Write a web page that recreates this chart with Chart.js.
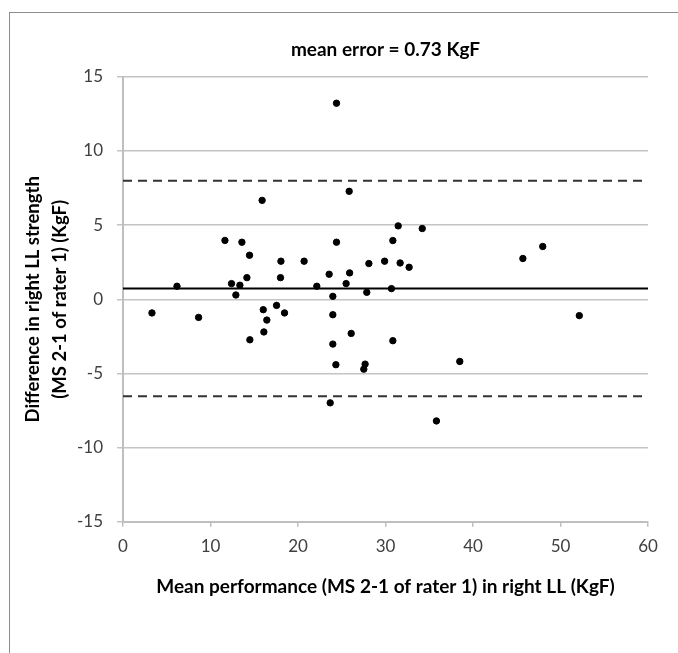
<!DOCTYPE html>
<html lang="en">
<head>
  <meta charset="UTF-8" />
  <title>Bland-Altman - right LL</title>
  <script src="https://cdn.jsdelivr.net/npm/chart.js"></script>
  <style>
    html, body {
      margin: 0;
      padding: 0;
      background: #ffffff;
      overflow: hidden;
    }

    .frame {
      position: absolute;
      left: 9px;
      top: 12px;
      width: 700px;
      height: 700px;
      border: 1px solid #8c8c8c;
    }

    .chart-box {
      position: absolute;
      left: 0;
      top: 0;
      width: 678px;
      height: 653px;
    }
  </style>
</head>
<body>

<div class="frame"></div>
<div class="chart-box"><canvas id="baChart"></canvas></div>

<script>
  // mean of the two measures (x) and their difference (y), one entry per subject
  const meanPerf = [
    24.4, 15.9, 25.85, 11.65, 13.59, 24.4, 14.46, 18.05, 20.7, 28.1,
    29.9, 14.16, 18.0, 23.56, 25.9, 31.45, 34.2, 30.84, 31.67, 32.7,
    45.7, 47.97, 6.17, 12.4, 13.36, 12.9, 22.15, 25.5, 23.98, 27.86,
    30.68, 3.31, 8.64, 16.03, 17.55, 18.46, 16.44, 16.1, 14.5, 23.98,
    26.08, 23.98, 24.33, 27.67, 27.52, 23.68, 30.84, 52.15, 38.49, 35.82
  ];
  const diffs = [
    13.22, 6.67, 7.28, 3.97, 3.85, 3.85, 2.97, 2.57, 2.57, 2.41,
    2.57, 1.46, 1.46, 1.69, 1.78, 4.95, 4.77, 3.96, 2.45, 2.16,
    2.75, 3.56, 0.88, 1.06, 0.95, 0.29, 0.88, 1.06, 0.2, 0.47,
    0.72, -0.92, -1.22, -0.7, -0.41, -0.92, -1.4, -2.2, -2.73, -1.04,
    -2.3, -3.02, -4.41, -4.37, -4.71, -6.98, -2.79, -1.1, -4.19, -8.2
  ];

  const meanError = 0.73;
  const upperLimit = 7.99;
  const lowerLimit = -6.53;

  const xRange = [0, 60];
  const yRange = [-15, 15];

  const fontFamily = 'Lato, "Open Sans", sans-serif';

  const points = meanPerf.map((x, i) => ({ x: x, y: diffs[i] }));
  const hLine = (v) => xRange.map(x => ({ x: x, y: v }));

  const ctx = document.getElementById('baChart').getContext('2d');
  const chart = new Chart(ctx, {
    type: 'scatter',
    data: {
      datasets: [
        {
          label: 'Subjects',
          data: points,
          backgroundColor: '#000000',
          borderColor: '#000000',
          pointRadius: 3.2,
          pointHoverRadius: 3.2,
          order: 0
        },
        {
          label: 'Mean error',
          type: 'line',
          data: hLine(meanError),
          borderColor: '#000000',
          borderWidth: 2,
          pointRadius: 0,
          order: 1
        },
        {
          label: 'Upper limit',
          type: 'line',
          data: hLine(upperLimit),
          borderColor: '#333333',
          borderWidth: 2,
          borderDash: [9, 6],
          pointRadius: 0,
          order: 1
        },
        {
          label: 'Lower limit',
          type: 'line',
          data: hLine(lowerLimit),
          borderColor: '#333333',
          borderWidth: 2,
          borderDash: [9, 6],
          pointRadius: 0,
          order: 1
        }
      ]
    },
    options: {
      responsive: true,
      maintainAspectRatio: false,
      animation: false,
      layout: {
        padding: { left: 0, right: 30, top: 0, bottom: 55 }
      },
      plugins: {
        legend: { display: false },
        tooltip: { enabled: false },
        title: {
          display: true,
          text: 'mean error = 0.73 KgF',
          fullSize: false,
          color: '#000000',
          font: { family: fontFamily, size: 19, weight: 'bold' },
          padding: { top: 38, bottom: 16 }
        }
      },
      scales: {
        x: {
          type: 'linear',
          min: xRange[0],
          max: xRange[1],
          ticks: {
            stepSize: 10,
            color: '#404040',
            padding: 10,
            font: { family: fontFamily, size: 17 }
          },
          grid: {
            drawOnChartArea: false,
            drawTicks: true,
            tickLength: 5,
            color: '#bfbfbf',
            lineWidth: 1.5
          },
          border: { display: true, color: '#bfbfbf', width: 2 },
          title: {
            display: true,
            text: 'Mean performance (MS 2-1 of rater 1) in right LL (KgF)',
            color: '#000000',
            font: { family: fontFamily, size: 19, weight: 'bold' },
            padding: { top: 8, bottom: 0 }
          }
        },
        y: {
          type: 'linear',
          min: yRange[0],
          max: yRange[1],
          afterFit: (scale) => { scale.width = 123; },
          ticks: {
            stepSize: 5,
            color: '#404040',
            padding: 14,
            font: { family: fontFamily, size: 17 }
          },
          grid: {
            drawTicks: true,
            tickLength: 6,
            color: '#c4c4c4',
            lineWidth: 1.5
          },
          border: { display: true, color: '#bfbfbf', width: 2 },
          title: {
            display: true,
            text: ['Difference in right LL strength', '(MS 2-1 of rater 1) (KgF)'],
            color: '#000000',
            font: { family: fontFamily, size: 18.5, weight: 'bold', lineHeight: 1.45 },
            padding: { top: 20, bottom: 0 }
          }
        }
      }
    }
  });
</script>

</body>
</html>
